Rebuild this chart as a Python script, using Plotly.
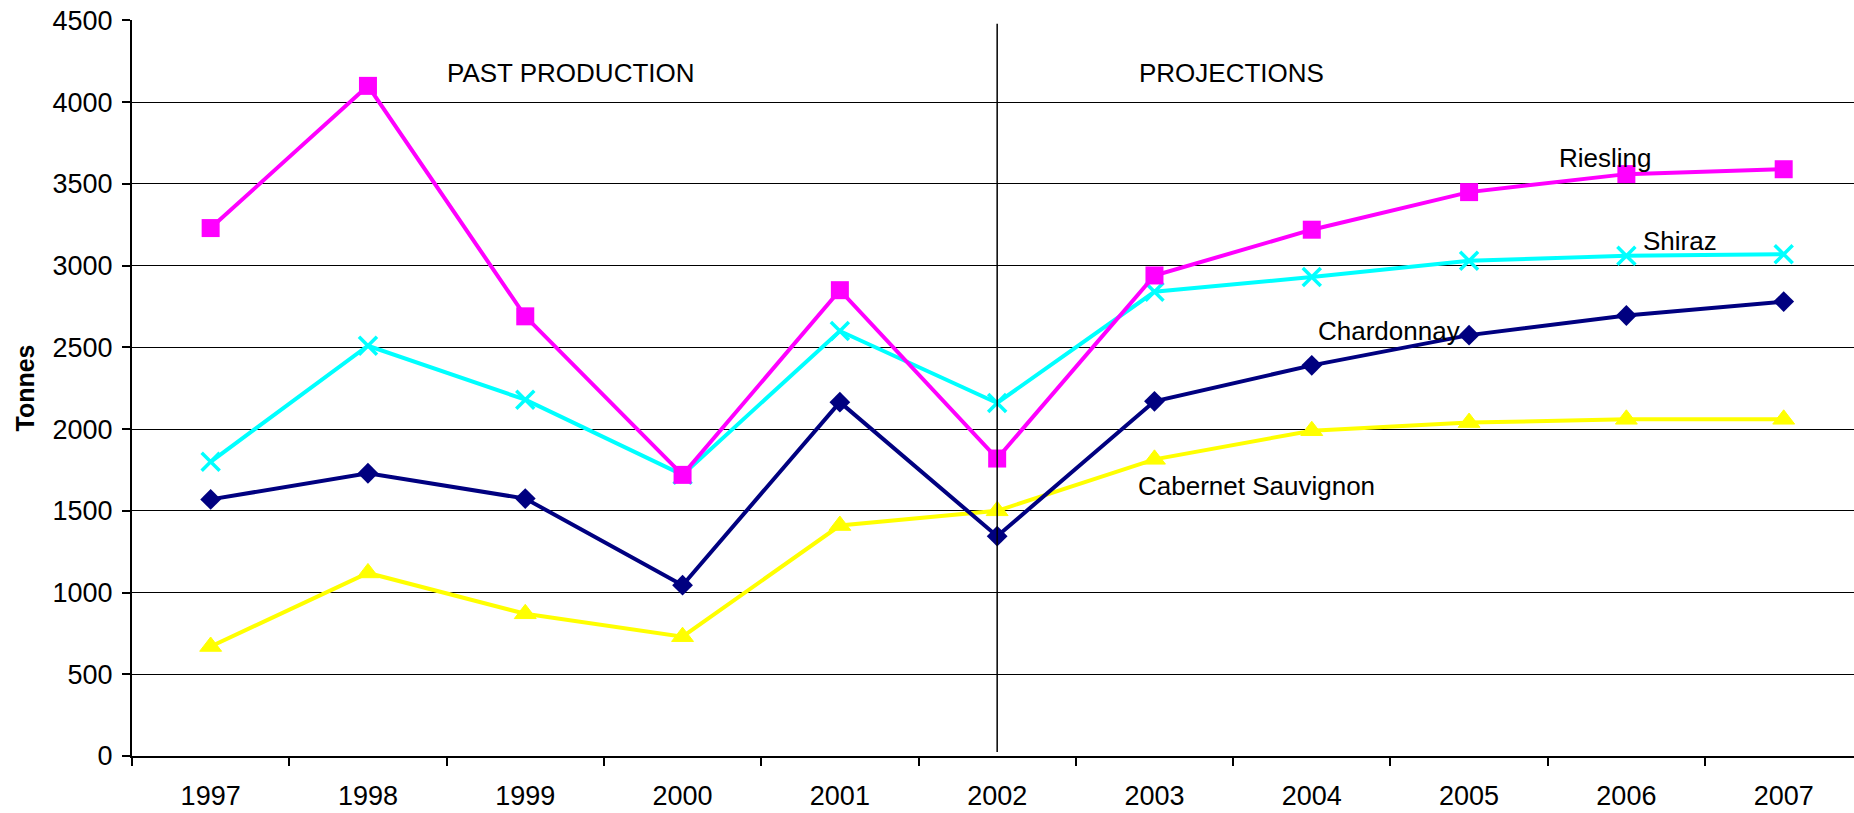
import plotly.graph_objects as go

years = ["1997", "1998", "1999", "2000", "2001", "2002", "2003", "2004", "2005", "2006", "2007"]
riesling = [3230, 4100, 2690, 1720, 2850, 1820, 2940, 3220, 3450, 3560, 3590]
shiraz = [1800, 2510, 2180, 1720, 2600, 2160, 2840, 2930, 3030, 3060, 3070]
chardonnay = [1570, 1730, 1575, 1045, 2165, 1345, 2170, 2390, 2575, 2695, 2780]
cabernet = [670, 1120, 870, 730, 1410, 1500, 1815, 1990, 2040, 2060, 2060]

y_ticks = [0, 500, 1000, 1500, 2000, 2500, 3000, 3500, 4000, 4500]

FONT = "Liberation Sans, Arial, sans-serif"

fig = go.Figure()

fig.add_trace(go.Scatter(
    x=years, y=cabernet, mode="lines+markers", name="Cabernet Sauvignon",
    line=dict(color="#FFFF00", width=4),
    marker=dict(symbol="triangle-up", size=19, color="#FFFF00",
                line=dict(color="#FFFF00", width=1)),
))
fig.add_trace(go.Scatter(
    x=years, y=chardonnay, mode="lines+markers", name="Chardonnay",
    line=dict(color="#000080", width=4),
    marker=dict(symbol="diamond", size=16, color="#000080"),
))
fig.add_trace(go.Scatter(
    x=years, y=shiraz, mode="lines+markers", name="Shiraz",
    line=dict(color="#00FFFF", width=4),
    marker=dict(symbol="x-thin", size=18, color="#00FFFF",
                line=dict(color="#00FFFF", width=3.5)),
))
fig.add_trace(go.Scatter(
    x=years, y=riesling, mode="lines+markers", name="Riesling",
    line=dict(color="#FF00FF", width=4),
    marker=dict(symbol="square", size=18, color="#FF00FF"),
))

# divider between past production and projections
div_idx = years.index("2002")
fig.add_shape(type="line", xref="x", yref="y",
              x0=div_idx, x1=div_idx, y0=25, y1=4480,
              line=dict(color="black", width=1.5))

annots = [
    ("PAST PRODUCTION", 2.29, 4181),
    ("PROJECTIONS", 6.49, 4181),
    ("Riesling", 8.87, 3661),
    ("Shiraz", 9.34, 3150),
    ("Chardonnay", 7.49, 2598),
    ("Cabernet Sauvignon", 6.65, 1650),
]
for text, ax_, ay_ in annots:
    fig.add_annotation(x=ax_, y=ay_, xref="x", yref="y", text=text,
                       showarrow=False, font=dict(family=FONT, size=26, color="black"))

fig.update_layout(
    width=1854, height=813,
    margin=dict(l=132, r=0, t=20, b=57),
    paper_bgcolor="white", plot_bgcolor="white",
    showlegend=False,
    font=dict(family=FONT, size=26, color="black"),
)

fig.update_xaxes(
    type="category", range=[-0.5, 10.447],
    tickson="boundaries", ticks="outside", ticklen=8, tickwidth=2, tickcolor="black",
    showline=True, linecolor="black", linewidth=2,
    showgrid=False, zeroline=False,
    tickfont=dict(family=FONT, size=27, color="black"),
    ticklabelstandoff=15,
    automargin=False,
)
fig.update_yaxes(
    range=[0, 4503], tickvals=y_ticks,
    ticks="outside", ticklen=8, tickwidth=2, tickcolor="black",
    showline=True, linecolor="black", linewidth=2,
    showgrid=True, gridcolor="black", gridwidth=1.3,
    zeroline=False,
    tickfont=dict(family=FONT, size=27, color="black"),
    ticklabelstandoff=4,
    ticklabeloverflow="allow",
    title=dict(text="<b>Tonnes</b>", font=dict(family=FONT, size=25, color="black"), standoff=11),
    automargin=False,
)

fig.write_html(
    "out.html",
    config={"displayModeBar": False},
    post_script="document.body.style.margin='0';document.body.style.overflow='hidden';",
)
